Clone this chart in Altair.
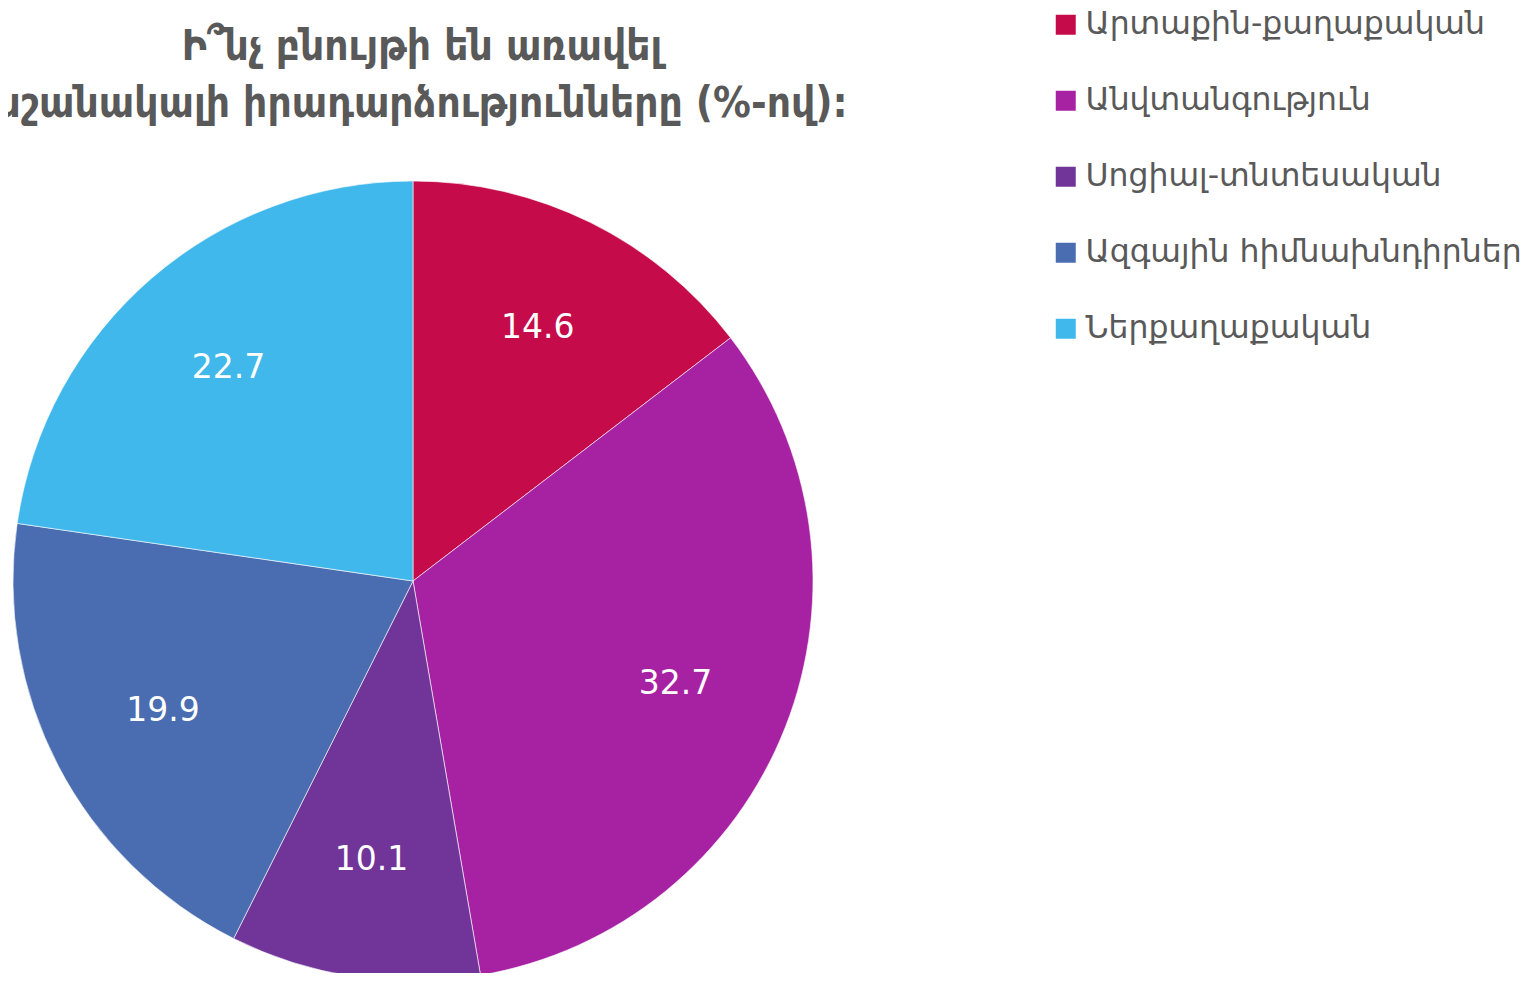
import altair as alt
import pandas as pd

categories = ["Արտաքին-քաղաքական", "Անվտանգություն", "Սոցիալ-տնտեսական",
              "Ազգային հիմնախնդիրներ", "Ներքաղաքական"]
values = [14.6, 32.7, 10.1, 19.9, 22.7]
colors = ["#C50B4A", "#A722A3", "#71359A", "#4A6CB0", "#41B8EC"]
title_lines = ["Ի՞նչ բնույթի են առավել",
               "նշանակալի իրադարձությունները (%-ով):"]

df = pd.DataFrame({
    "category": categories,
    "value": values,
    "order": list(range(len(categories))),
    "label": [f"{v:.1f}" for v in values],
})

CX, CY, R = 405, 573, 400
font = "DejaVu Sans"

base = alt.Chart(df).encode(
    theta=alt.Theta("value:Q", stack=True),
    order=alt.Order("order:Q"),
)

pie = base.mark_arc(outerRadius=R, stroke="#ffffff", strokeWidth=0.6).encode(
    x=alt.value(CX), y=alt.value(CY),
    color=alt.Color(
        "category:N",
        scale=alt.Scale(domain=categories, range=colors),
        sort=categories,
        legend=alt.Legend(
            title=None, orient="none", legendX=1042, legendY=1,
            symbolType="square", symbolSize=400, symbolStrokeWidth=0,
            labelFontSize=31.5, labelFont=font, labelColor="#595959",
            labelLimit=600, rowPadding=43, symbolOffset=0, labelOffset=4,
        ),
    ),
)

labels = base.mark_text(radius=282, fontSize=33, font=font, color="#ffffff").encode(
    x=alt.value(CX), y=alt.value(CY),
    text="label:N",
)

title = alt.Chart(pd.DataFrame({"t": [0]})).mark_text(
    text=title_lines, fontSize=42, font="DejaVu Sans Condensed", fontWeight="bold",
    color="#595959", align="center", baseline="alphabetic", lineHeight=57,
).encode(x=alt.value(414), y=alt.value(52))

chart = alt.layer(pie, labels, title).properties(
    width=1516, height=965,
    autosize=alt.AutoSizeParams(type="none"),
    padding=0,
).configure_view(stroke=None)

chart.save("out.html", embed_options={"renderer": "svg", "actions": False})
